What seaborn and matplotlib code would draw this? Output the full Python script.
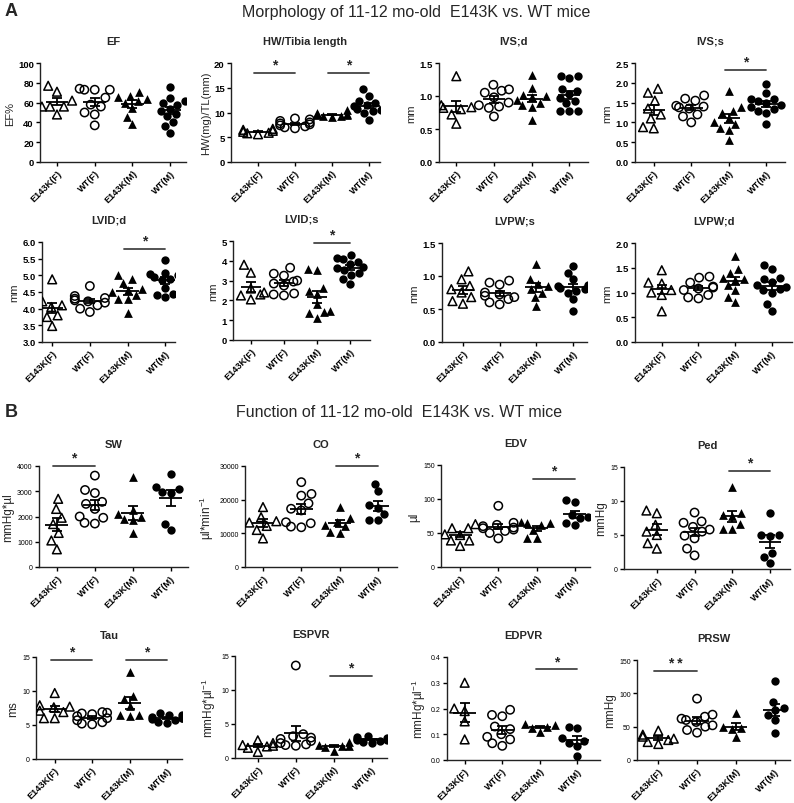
import numpy as np
import pandas as pd
import matplotlib
matplotlib.use("Agg")
import matplotlib.pyplot as plt
from matplotlib.ticker import FormatStrFormatter
import seaborn as sns

# =======================
# DADOS
# =======================

groups = ["E143K(F)", "WT(F)", "E143K(M)", "WT(M)"]

ef = [[77, 71, 62, 56, 56, 56, 48],
      [73, 74, 73, 73, 65, 58, 56, 50, 48, 37],
      [71, 67, 66, 64, 62, 60, 55, 45, 38],
      [76, 65, 62, 60, 58, 54, 52, 48, 46, 40, 36, 29]]
hw = [[6.7, 6.5, 6.3, 6.1, 5.9, 5.8, 5.6],
      [8.8, 8.6, 8.3, 8.0, 7.8, 7.6, 7.4, 7.2, 7.0, 6.8],
      [10.6, 9.9, 9.7, 9.6, 9.5, 9.4, 9.3, 9.2, 9.1],
      [14.7, 13.4, 12.4, 12.0, 11.6, 11.3, 11.1, 10.8, 10.6, 10.3, 9.9, 8.5]]
ivs_d = [[1.30, 0.86, 0.83, 0.82, 0.80, 0.72, 0.58],
         [1.17, 1.10, 1.08, 1.05, 0.98, 0.90, 0.86, 0.84, 0.82, 0.69],
         [1.32, 1.12, 1.02, 1.00, 0.98, 0.94, 0.90, 0.86, 0.84, 0.63],
         [1.31, 1.30, 1.28, 1.10, 1.08, 1.03, 0.97, 0.93, 0.89, 0.77, 0.77, 0.77]]
ivs_s = [[1.85, 1.75, 1.55, 1.35, 1.20, 1.10, 0.88, 0.85],
         [1.68, 1.60, 1.55, 1.42, 1.40, 1.38, 1.35, 1.20, 1.15, 1.00],
         [1.80, 1.40, 1.30, 1.25, 1.10, 1.00, 0.95, 0.85, 0.80, 0.55],
         [1.98, 1.75, 1.60, 1.58, 1.55, 1.50, 1.45, 1.40, 1.35, 1.30, 1.25, 0.97]]
lvid_d = [[4.88, 4.22, 4.10, 4.05, 3.85, 3.80, 3.75, 3.48],
          [4.68, 4.38, 4.32, 4.30, 4.25, 4.22, 4.18, 4.10, 4.00, 3.90],
          [5.00, 4.88, 4.78, 4.60, 4.55, 4.50, 4.40, 4.30, 4.28, 3.88],
          [5.45, 5.08, 5.07, 5.05, 5.02, 4.95, 4.88, 4.85, 4.62, 4.45, 4.40, 4.35]]
lvid_s = [[3.80, 3.40, 2.60, 2.40, 2.30, 2.25, 2.05],
          [3.65, 3.35, 3.25, 3.00, 2.95, 2.85, 2.75, 2.35, 2.30, 2.25],
          [3.60, 3.55, 2.65, 2.50, 2.30, 1.80, 1.45, 1.40, 1.35, 1.10],
          [4.30, 4.15, 4.10, 3.95, 3.85, 3.70, 3.65, 3.55, 3.40, 3.30, 3.10, 2.85]]
lvpw_s = [[1.07, 0.95, 0.85, 0.80, 0.75, 0.68, 0.62, 0.58],
          [0.93, 0.90, 0.87, 0.75, 0.72, 0.70, 0.68, 0.65, 0.60, 0.57],
          [1.18, 0.95, 0.88, 0.85, 0.80, 0.75, 0.68, 0.55],
          [1.15, 1.05, 0.95, 0.87, 0.85, 0.83, 0.82, 0.80, 0.78, 0.75, 0.65, 0.47]]
lvpw_d = [[1.45, 1.20, 1.18, 1.05, 1.00, 0.95, 0.62],
          [1.32, 1.30, 1.20, 1.12, 1.10, 1.08, 1.05, 0.95, 0.90, 0.88],
          [1.73, 1.48, 1.40, 1.30, 1.28, 1.25, 1.15, 1.05, 0.90, 0.80],
          [1.55, 1.47, 1.30, 1.28, 1.22, 1.15, 1.12, 1.08, 1.05, 1.00, 0.77, 0.63]]
sw = [[2700, 2300, 1950, 1700, 1350, 1050, 700],
      [3620, 3050, 2930, 2580, 2500, 2300, 2000, 1950, 1750, 1720],
      [3560, 2250, 2100, 1980, 1900, 1850, 1330],
      [3700, 3180, 2980, 2950, 3080, 1700, 1450]]
co = [[17800, 14800, 13600, 13200, 12200, 11000, 8500],
      [25200, 21700, 21200, 18900, 17300, 16800, 13300, 13000, 12000, 11800],
      [17800, 14500, 13500, 12400, 12200, 10300, 10200],
      [24800, 22500, 18300, 17600, 15800, 14000, 14000]]
edv = [[63, 57, 57, 48, 47, 39, 39, 31],
       [90, 65, 62, 60, 58, 57, 55, 53, 50, 42],
       [66, 65, 64, 62, 55, 43, 43],
       [98, 95, 77, 73, 72, 65, 62]]
ped = [[8.6, 8.2, 6.5, 5.5, 5.0, 3.8, 3.0],
       [8.3, 7.0, 6.8, 6.2, 5.8, 5.5, 4.9, 4.5, 3.0, 2.0],
       [12.1, 8.2, 8.0, 7.8, 6.6, 5.9, 5.9],
       [8.3, 5.0, 5.0, 4.8, 2.4, 1.8, 0.9]]
tau = [[9.7, 7.9, 7.7, 7.6, 7.1, 6.9, 6.0, 6.0],
       [6.9, 6.8, 6.7, 6.6, 6.3, 6.0, 5.7, 5.4, 5.2, 5.1],
       [12.8, 9.2, 8.8, 7.8, 6.5, 6.4, 6.3],
       [6.7, 6.5, 6.4, 6.2, 6.1, 6.0, 5.9, 5.7, 5.5, 5.3]]
espvr = [[2.6, 2.2, 1.9, 1.8, 1.7, 1.5, 0.9],
         [13.6, 3.5, 3.2, 3.0, 2.8, 2.5, 2.2, 2.0, 1.9, 1.8],
         [2.3, 1.9, 1.8, 1.7, 1.6, 1.1],
         [3.3, 3.1, 3.0, 2.8, 2.7, 2.6, 2.5, 2.3, 2.2]]
edpvr = [[0.30, 0.20, 0.19, 0.15, 0.08],
         [0.195, 0.175, 0.17, 0.13, 0.12, 0.10, 0.09, 0.08, 0.065, 0.055],
         [0.140, 0.135, 0.13, 0.125, 0.11],
         [0.130, 0.125, 0.085, 0.075, 0.065, 0.055, 0.015]]
prsw = [[44, 38, 35, 32, 30, 27, 24],
        [92, 68, 65, 62, 60, 57, 52, 50, 45, 41],
        [70, 50, 48, 47, 35],
        [118, 87, 78, 75, 68, 60, 40]]

# =======================
# ESTILO
# =======================

sns.set_style("ticks")
plt.rcParams['font.family'] = ['Liberation Sans', 'DejaVu Sans']
plt.rcParams['mathtext.fontset'] = 'custom'
plt.rcParams['mathtext.rm'] = 'Liberation Sans'
plt.rcParams['mathtext.it'] = 'Liberation Sans:italic'
plt.rcParams['mathtext.bf'] = 'Liberation Sans:bold'

W, H = 794, 804
fig = plt.figure(figsize=(W / 100, H / 100), dpi=100)

markers = ['^', 'o', '^', 'o']
open_mk = [True, True, False, False]
msize = [6.3, 6.0, 6.3, 6.0]


def panel(box, xlim, title, ylabel, vals, ylim, yticks, fmt, sigs, rowB=False):
    l, t, r, b = box
    ax = fig.add_axes([l / W, 1 - b / H, (r - l) / W, (b - t) / H])
    for k, g in enumerate(groups):
        sub = pd.DataFrame({'grp': g, 'val': vals[k]})
        n0 = len(ax.collections)
        sns.swarmplot(data=sub, x='grp', y='val', order=groups, marker=markers[k],
                      size=msize[k], color='black', ax=ax, zorder=3)
        # seaborn cria colecoes vazias para as outras categorias
        for coll in ax.collections[n0:]:
            if len(coll.get_offsets()) == 0:
                continue
            if open_mk[k]:
                coll.set_facecolor('none')
                coll.set_edgecolor('black')
                coll.set_linewidth(1.1)
            else:
                coll.set_facecolor('black')
                coll.set_edgecolor('black')
                coll.set_linewidth(0)
        # media +/- EPM
        v = np.array(vals[k], dtype=float)
        m = v.mean()
        sem = v.std(ddof=1) / np.sqrt(len(v))
        ax.hlines(m, k - 0.3, k + 0.3, color='black', lw=1.3, zorder=4)
        ax.errorbar(k, m, yerr=sem, color='black', lw=1.3, capsize=3.5,
                    capthick=1.3, zorder=4)
    ax.set_xlim(*xlim)
    ax.set_ylim(*ylim)
    ax.set_yticks(yticks)
    ax.yaxis.set_major_formatter(FormatStrFormatter(fmt))
    ax.set_xticks(range(4))
    ax.set_xticklabels(groups, rotation=45, ha='right', rotation_mode='anchor',
                       fontsize=6.6, fontweight='bold')
    ax.set_xlabel('')
    ax.set_ylabel(ylabel, fontsize=8 if not rowB else 8.5, labelpad=2)
    if rowB:
        ax.tick_params(axis='y', labelsize=5)
    else:
        ax.tick_params(axis='y', labelsize=6.8)
        for lab in ax.get_yticklabels():
            lab.set_fontweight('bold')
    ax.tick_params(length=3, width=1, pad=1.5, colors='black')
    ax.set_title(title, fontsize=8, fontweight='bold', pad=14)
    sns.despine(ax=ax)
    for s in ['left', 'bottom']:
        ax.spines[s].set_linewidth(1)
        ax.spines[s].set_color('#222222')
    for i, j, y, txt in sigs:
        ax.plot([i - 0.1, j], [y, y], color='#444444', lw=1.3, clip_on=False)
        ax.annotate(txt, xy=((i + j) / 2 - 0.05, y), xytext=(0, 1),
                    textcoords='offset points', ha='center', va='bottom',
                    fontsize=10, fontweight='bold', annotation_clip=False)
    return ax


mu = 'µ'
# Linha 1
panel((40, 64, 186, 163), (-0.45, 3.42), 'EF', 'EF%', ef, (0, 100),
      [0, 20, 40, 60, 80, 100], '%d', [])
panel((231, 64, 380, 163), (-0.73, 3.3), 'HW/Tibia length', 'HW(mg)/TL(mm)', hw,
      (0, 20), [0, 5, 10, 15, 20], '%d', [(0, 1, 18, '*'), (2, 3, 18, '*')])
panel((439, 64, 588, 163), (-0.46, 3.5), 'IVS;d', 'mm', ivs_d, (0, 1.5),
      [0, 0.5, 1.0, 1.5], '%.1f', [])
panel((635, 64, 785, 163), (-0.5, 3.5), 'IVS;s', 'mm', ivs_s, (0, 2.5),
      [0, 0.5, 1.0, 1.5, 2.0, 2.5], '%.1f', [(2, 3, 2.32, '*')])
# Linha 2
panel((42, 243, 175, 343), (-0.27, 3.26), 'LVID;d', 'mm', lvid_d, (3, 6),
      [3.0, 3.5, 4.0, 4.5, 5.0, 5.5, 6.0], '%.1f', [(2, 3, 5.8, '*')])
panel((233, 242, 370, 341), (-0.54, 3.6), 'LVID;s', 'mm', lvid_s, (0, 5),
      [0, 1, 2, 3, 4, 5], '%d', [(2, 3, 4.9, '*')])
panel((442, 244, 587, 343), (-0.57, 3.38), 'LVPW;s', 'mm', lvpw_s, (0, 1.5),
      [0, 0.5, 1.0, 1.5], '%.1f', [])
panel((635, 244, 792, 343), (-0.73, 3.55), 'LVPW;d', 'mm', lvpw_d, (0, 2.0),
      [0, 0.5, 1.0, 1.5, 2.0], '%.1f', [])
# Linha 3
panel((39, 467, 188, 568), (-0.47, 3.45), 'SW', f'mmHg*{mu}l', sw, (0, 4000),
      [0, 1000, 2000, 3000, 4000], '%d', [(0, 1, 4000, '*')], rowB=True)
panel((245, 467, 397, 568), (-0.47, 3.5), 'CO', f'{mu}l*min$^{{-1}}$', co,
      (0, 30000), [0, 10000, 20000, 30000], '%d', [(2, 3, 30000, '*')], rowB=True)
panel((441, 466, 590, 568), (-0.5, 3.4), 'EDV', f'{mu}l', edv, (0, 150),
      [0, 50, 100, 150], '%d', [(2, 3, 129, '*')], rowB=True)
panel((624, 468, 790, 570), (-0.87, 3.53), 'Ped', 'mmHg', ped, (0, 15),
      [0, 5, 10, 15], '%d', [(2, 3, 14.4, '*')], rowB=True)
# Linha 4
panel((36, 658, 182, 760), (-0.5, 3.4), 'Tau', 'ms', tau, (0, 15),
      [0, 5, 10, 15], '%d', [(0, 1, 14.6, '*'), (2, 3, 14.6, '*')], rowB=True)
panel((235, 657, 387, 759), (-0.6, 3.4), 'ESPVR', f'mmHg*{mu}l$^{{-1}}$', espvr,
      (0, 15), [0, 5, 10, 15], '%d', [(2, 3, 12.05, '*')], rowB=True)
panel((447, 658, 600, 761), (-0.47, 3.6), 'EDPVR', f'mmHg*{mu}l$^{{-1}}$', edpvr,
      (0, 0.4), [0, 0.1, 0.2, 0.3, 0.4], '%.1f', [(2, 3, 0.352, '*')], rowB=True)
panel((637, 661, 790, 761), (-0.55, 3.4), 'PRSW', 'mmHg', prsw, (0, 150),
      [0, 50, 100, 150], '%d', [(0, 1, 133, '* *')], rowB=True)

# Titulos gerais
fig.text(5 / W, 1 - 12 / H, 'A', fontsize=13, fontweight='bold', va='center')
fig.text(416 / W, 1 - 13 / H, 'Morphology of 11-12 mo-old  E143K vs. WT mice',
         fontsize=11.5, ha='center', va='center')
fig.text(5 / W, 1 - 413 / H, 'B', fontsize=13, fontweight='bold', va='center')
fig.text(399 / W, 1 - 413 / H, 'Function of 11-12 mo-old  E143K vs. WT mice',
         fontsize=11.5, ha='center', va='center')

fig.savefig('out.png', dpi=100)
